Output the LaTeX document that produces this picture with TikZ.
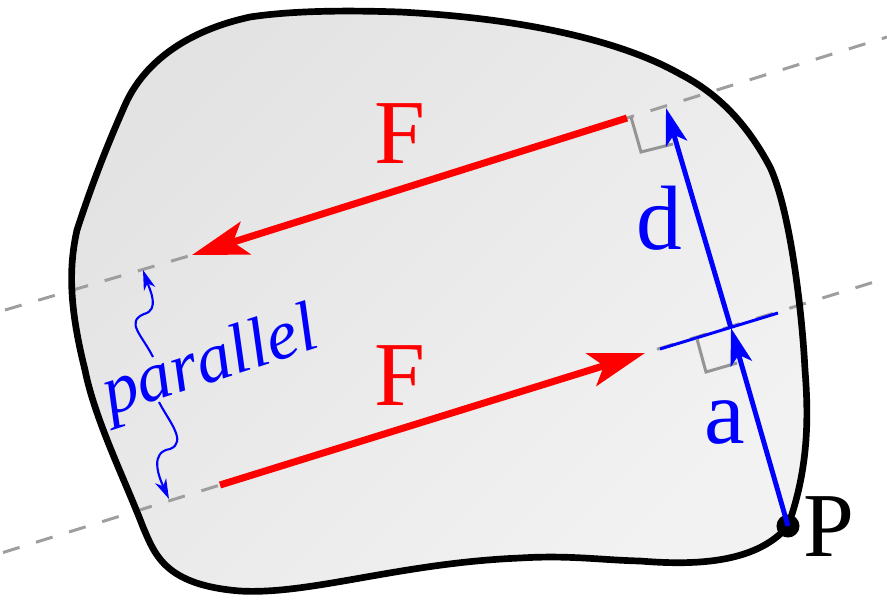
\documentclass[tikz,border=0pt]{standalone}
\usepackage{fontspec}
\setmainfont{Liberation Serif}
\usetikzlibrary{arrows.meta,positioning,calc}

\begin{document}
\begin{tikzpicture}[x=0.01cm,y=-0.01cm,
  guide/.style={draw=black!38,line width=0.85pt,dash pattern=on 0.173cm off 0.173cm},
  angle/.style={draw=black!42,line width=0.85pt},
  force/.style={draw=red,line width=2pt,-{Stealth[length=0.56cm,width=0.34cm,inset=0.13cm]}},
  dist/.style={draw=blue,line width=1.4pt,-{Stealth[length=0.37cm,width=0.22cm,inset=0.09cm]}},
  note/.style={draw=blue,line width=0.6pt,-{Stealth[length=0.2cm,width=0.12cm,inset=0.06cm]}},
  lab/.style={font=\fontsize{26}{26}\selectfont,inner sep=0pt}
]
\useasboundingbox (0,0) rectangle (887,611);
% body
\shade[top color=black!11,bottom color=black!5,shading angle=45]
  (788,526) .. controls (808,470) and (809,420) .. (805,370)
  .. controls (802,310) and (790,210) .. (770,167)
  .. controls (745,120) and (715,92) .. (680,74)
  .. controls (620,40) and (520,18) .. (400,12)
  .. controls (340,10) and (290,11) .. (250,17)
  .. controls (190,30) and (145,60) .. (125,105)
  .. controls (105,150) and (90,190) .. (77,230)
  .. controls (68,270) and (70,310) .. (85,370)
  .. controls (95,420) and (125,480) .. (143,527)
  .. controls (155,555) and (165,585) .. (240,591)
  .. controls (310,595) and (400,563) .. (520,558)
  .. controls (570,555) and (600,560) .. (640,561)
  .. controls (690,565) and (755,565) .. (788,526) -- cycle;
% points
\coordinate (lowstart) at (3,552.5);
\coordinate (lowtail) at (220,485);
\coordinate (lowtip) at (645,353);
\coordinate (lowfar) at (887,278);
\coordinate (upstart) at (5,310);
\coordinate (uptip) at (192,255);
\coordinate (uptail) at (627,118);
\coordinate (upfar) at (887,37);
\coordinate (foot) at (731,328);
\coordinate (top) at (666,108);
\coordinate (tickleft) at (660,349);
\coordinate (tickright) at (778,313);
% guide lines
\draw[guide] (lowstart) -- (lowtail);
\draw[guide,dash phase=0.22cm] (lowtip) -- (lowfar);
\draw[guide] (upstart) -- (uptip);
\draw[guide,dash phase=0.1cm] (uptail) -- (upfar);
\draw[draw=blue,line width=0.85pt] (tickleft) -- (tickright);
% right angles
\draw[angle] (631,117) -- (641,152) -- (673,144);
\draw[angle] (697,339) -- (706,372) -- (737,363);
% outline
\draw[line width=1.9pt]
  (788,526) .. controls (808,470) and (809,420) .. (805,370)
  .. controls (802,310) and (790,210) .. (770,167)
  .. controls (745,120) and (715,92) .. (680,74)
  .. controls (620,40) and (520,18) .. (400,12)
  .. controls (340,10) and (290,11) .. (250,17)
  .. controls (190,30) and (145,60) .. (125,105)
  .. controls (105,150) and (90,190) .. (77,230)
  .. controls (68,270) and (70,310) .. (85,370)
  .. controls (95,420) and (125,480) .. (143,527)
  .. controls (155,555) and (165,585) .. (240,591)
  .. controls (310,595) and (400,563) .. (520,558)
  .. controls (570,555) and (600,560) .. (640,561)
  .. controls (690,565) and (755,565) .. (788,526) -- cycle;
% point P
\node[circle,fill=black,minimum size=0.23cm,inner sep=0pt] (pivot) at (788,526) {};
\node[lab] (plabel) at (829,527) {P};
% forces
\draw[force] (lowtail) -- (lowtip);
\draw[force] (uptail) -- (uptip);
\node[lab,text=red] (flow) at (400,376) {F};
\node[lab,text=red] (fup) at (400,134) {F};
% distances
\draw[dist] (pivot.center) -- (foot);
\draw[dist] (foot) -- (top);
\node[lab,text=blue] (alabel) at (725,422) {a};
\node[lab,text=blue] (dlabel) at (659,218) {d};
% note
\node[inner sep=0pt,text=blue,rotate=18,font=\fontsize{20}{20}\selectfont\itshape] (parallel) at (211,365) {parallel};
\coordinate (uphead) at (143,270);
\coordinate (lowhead) at (169,499);
\coordinate (upfoot) at (153,357);
\coordinate (lowfoot) at (159,402);
\draw[note] (upfoot) .. controls (142,335) and (125,322) .. (144,314) .. controls (160,310) and (150,290) .. (uphead);
\draw[note] (lowfoot) .. controls (168,420) and (188,442) .. (170,449) .. controls (150,452) and (158,475) .. (lowhead);
\end{tikzpicture}
\end{document}
